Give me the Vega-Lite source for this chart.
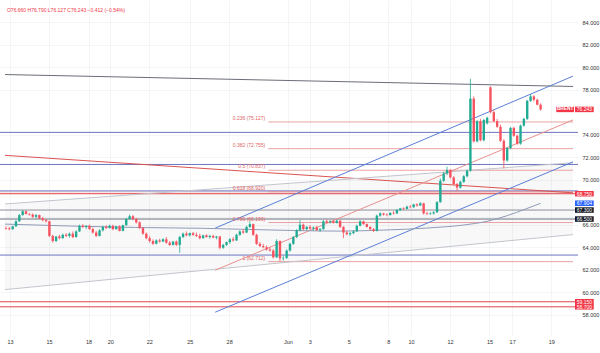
{
  "$schema": "https://vega.github.io/schema/vega-lite/v6.json",
  "width": 578,
  "height": 335,
  "autosize": {"type": "none"},
  "padding": {"left": 0, "top": 0, "right": 22, "bottom": 18},
  "background": "#ffffff",
  "config": {
    "view": {"stroke": null},
    "font": "Liberation Sans",
    "axis": {"labelFont": "Liberation Sans", "labelColor": "#333333", "labelFontSize": 5.5, "labelOverlap": false, "labelBound": false, "labelFlush": false}
  },
  "resolve": {"scale": {"color": "independent"}, "axis": {"x": "independent", "y": "independent"}},
  "datasets": {
    "candles": [
      {"i":0,"o":65.70,"h":65.85,"l":65.55,"c":65.65},
      {"i":1,"o":65.65,"h":65.80,"l":65.50,"c":65.60},
      {"i":2,"o":65.60,"h":65.90,"l":65.55,"c":65.85},
      {"i":3,"o":65.85,"h":66.40,"l":65.80,"c":66.30},
      {"i":4,"o":66.30,"h":66.95,"l":66.25,"c":66.85},
      {"i":5,"o":66.85,"h":67.30,"l":66.80,"c":67.20},
      {"i":6,"o":67.20,"h":67.25,"l":66.90,"c":66.95},
      {"i":7,"o":66.95,"h":67.05,"l":66.80,"c":66.90},
      {"i":8,"o":66.90,"h":67.00,"l":66.60,"c":66.70},
      {"i":9,"o":66.70,"h":66.95,"l":66.55,"c":66.85},
      {"i":10,"o":66.85,"h":66.90,"l":66.50,"c":66.55},
      {"i":11,"o":66.55,"h":66.70,"l":66.30,"c":66.40},
      {"i":12,"o":66.40,"h":66.50,"l":66.20,"c":66.30},
      {"i":13,"o":66.30,"h":66.35,"l":64.90,"c":65.00},
      {"i":14,"o":65.00,"h":65.10,"l":64.40,"c":64.55},
      {"i":15,"o":64.55,"h":65.00,"l":64.45,"c":64.95},
      {"i":16,"o":64.95,"h":65.10,"l":64.70,"c":64.80},
      {"i":17,"o":64.80,"h":65.20,"l":64.75,"c":65.10},
      {"i":18,"o":65.10,"h":65.25,"l":64.90,"c":65.00},
      {"i":19,"o":65.00,"h":65.30,"l":64.85,"c":65.20},
      {"i":20,"o":65.20,"h":65.40,"l":64.80,"c":64.90},
      {"i":21,"o":64.90,"h":65.50,"l":64.85,"c":65.40},
      {"i":22,"o":65.40,"h":66.00,"l":65.35,"c":65.90},
      {"i":23,"o":65.90,"h":66.05,"l":65.70,"c":65.80},
      {"i":24,"o":65.80,"h":65.95,"l":65.60,"c":65.90},
      {"i":25,"o":65.90,"h":66.00,"l":65.55,"c":65.60},
      {"i":26,"o":65.60,"h":65.75,"l":65.20,"c":65.30},
      {"i":27,"o":65.30,"h":65.45,"l":64.90,"c":65.00},
      {"i":28,"o":65.00,"h":65.60,"l":64.95,"c":65.50},
      {"i":29,"o":65.50,"h":65.90,"l":65.40,"c":65.80},
      {"i":30,"o":65.80,"h":65.95,"l":65.60,"c":65.70},
      {"i":31,"o":65.70,"h":66.00,"l":65.65,"c":65.90},
      {"i":32,"o":65.90,"h":66.00,"l":65.50,"c":65.60},
      {"i":33,"o":65.60,"h":65.90,"l":65.55,"c":65.85},
      {"i":34,"o":65.85,"h":65.95,"l":65.40,"c":65.45},
      {"i":35,"o":65.45,"h":66.00,"l":65.40,"c":65.95},
      {"i":36,"o":65.95,"h":66.60,"l":65.90,"c":66.50},
      {"i":37,"o":66.50,"h":66.90,"l":66.45,"c":66.75},
      {"i":38,"o":66.75,"h":66.85,"l":66.40,"c":66.50},
      {"i":39,"o":66.50,"h":66.60,"l":66.10,"c":66.20},
      {"i":40,"o":66.20,"h":66.30,"l":65.60,"c":65.70},
      {"i":41,"o":65.70,"h":65.80,"l":65.10,"c":65.20},
      {"i":42,"o":65.20,"h":65.30,"l":64.70,"c":64.80},
      {"i":43,"o":64.80,"h":65.00,"l":64.40,"c":64.55},
      {"i":44,"o":64.55,"h":64.70,"l":64.20,"c":64.30},
      {"i":45,"o":64.30,"h":64.70,"l":64.25,"c":64.60},
      {"i":46,"o":64.60,"h":64.75,"l":64.40,"c":64.50},
      {"i":47,"o":64.50,"h":64.80,"l":64.45,"c":64.70},
      {"i":48,"o":64.70,"h":64.90,"l":64.30,"c":64.40},
      {"i":49,"o":64.40,"h":64.55,"l":64.10,"c":64.20},
      {"i":50,"o":64.20,"h":64.55,"l":64.15,"c":64.50},
      {"i":51,"o":64.50,"h":64.60,"l":64.10,"c":64.20},
      {"i":52,"o":64.20,"h":65.00,"l":63.50,"c":64.90},
      {"i":53,"o":64.90,"h":65.30,"l":64.80,"c":65.20},
      {"i":54,"o":65.20,"h":65.40,"l":64.95,"c":65.05},
      {"i":55,"o":65.05,"h":65.30,"l":64.95,"c":65.25},
      {"i":56,"o":65.25,"h":65.35,"l":65.00,"c":65.10},
      {"i":57,"o":65.10,"h":65.30,"l":64.90,"c":65.00},
      {"i":58,"o":65.00,"h":65.20,"l":64.70,"c":64.80},
      {"i":59,"o":64.80,"h":65.10,"l":64.75,"c":65.05},
      {"i":60,"o":65.05,"h":65.15,"l":64.85,"c":64.90},
      {"i":61,"o":64.90,"h":65.10,"l":64.75,"c":65.00},
      {"i":62,"o":65.00,"h":65.10,"l":64.80,"c":64.85},
      {"i":63,"o":64.85,"h":65.00,"l":64.70,"c":64.95},
      {"i":64,"o":64.95,"h":65.00,"l":63.80,"c":63.95},
      {"i":65,"o":63.95,"h":64.30,"l":63.85,"c":64.20},
      {"i":66,"o":64.20,"h":64.50,"l":64.10,"c":64.45},
      {"i":67,"o":64.45,"h":64.80,"l":64.30,"c":64.70},
      {"i":68,"o":64.70,"h":64.90,"l":64.50,"c":64.60},
      {"i":69,"o":64.60,"h":65.20,"l":64.55,"c":65.10},
      {"i":70,"o":65.10,"h":65.50,"l":65.00,"c":65.40},
      {"i":71,"o":65.40,"h":65.60,"l":65.20,"c":65.30},
      {"i":72,"o":65.30,"h":65.90,"l":65.25,"c":65.80},
      {"i":73,"o":65.80,"h":66.30,"l":65.70,"c":66.05},
      {"i":74,"o":66.05,"h":66.10,"l":65.00,"c":65.10},
      {"i":75,"o":65.10,"h":65.20,"l":64.20,"c":64.30},
      {"i":76,"o":64.30,"h":64.45,"l":64.00,"c":64.10},
      {"i":77,"o":64.10,"h":64.30,"l":63.90,"c":64.00},
      {"i":78,"o":64.00,"h":64.15,"l":63.70,"c":63.80},
      {"i":79,"o":63.80,"h":64.00,"l":63.60,"c":63.70},
      {"i":80,"o":63.70,"h":63.85,"l":63.00,"c":63.10},
      {"i":81,"o":63.10,"h":64.70,"l":63.05,"c":64.55},
      {"i":82,"o":64.55,"h":64.60,"l":62.71,"c":63.00},
      {"i":83,"o":63.00,"h":63.20,"l":62.80,"c":63.05},
      {"i":84,"o":63.05,"h":63.80,"l":62.95,"c":63.70},
      {"i":85,"o":63.70,"h":64.40,"l":63.60,"c":64.30},
      {"i":86,"o":64.30,"h":65.00,"l":64.20,"c":64.90},
      {"i":87,"o":64.90,"h":65.60,"l":64.80,"c":65.50},
      {"i":88,"o":65.50,"h":66.40,"l":65.40,"c":66.00},
      {"i":89,"o":66.00,"h":66.10,"l":65.50,"c":65.60},
      {"i":90,"o":65.60,"h":65.90,"l":65.50,"c":65.80},
      {"i":91,"o":65.80,"h":65.95,"l":65.55,"c":65.65},
      {"i":92,"o":65.65,"h":65.85,"l":65.45,"c":65.75},
      {"i":93,"o":65.75,"h":65.90,"l":65.45,"c":65.50},
      {"i":94,"o":65.50,"h":65.70,"l":65.35,"c":65.60},
      {"i":95,"o":65.60,"h":66.40,"l":65.55,"c":66.30},
      {"i":96,"o":66.30,"h":66.45,"l":66.15,"c":66.20},
      {"i":97,"o":66.20,"h":66.40,"l":66.10,"c":66.30},
      {"i":98,"o":66.30,"h":66.40,"l":66.10,"c":66.15},
      {"i":99,"o":66.15,"h":66.45,"l":66.10,"c":66.35},
      {"i":100,"o":66.35,"h":66.40,"l":65.70,"c":65.80},
      {"i":101,"o":65.80,"h":65.85,"l":64.80,"c":65.30},
      {"i":102,"o":65.30,"h":65.45,"l":65.05,"c":65.15},
      {"i":103,"o":65.15,"h":65.35,"l":65.00,"c":65.25},
      {"i":104,"o":65.25,"h":65.50,"l":65.15,"c":65.40},
      {"i":105,"o":65.40,"h":66.00,"l":65.35,"c":65.90},
      {"i":106,"o":65.90,"h":66.40,"l":65.85,"c":66.30},
      {"i":107,"o":66.30,"h":66.35,"l":66.00,"c":66.05},
      {"i":108,"o":66.05,"h":66.10,"l":65.75,"c":65.80},
      {"i":109,"o":65.80,"h":65.85,"l":65.50,"c":65.60},
      {"i":110,"o":65.60,"h":65.70,"l":65.35,"c":65.45},
      {"i":111,"o":65.45,"h":66.90,"l":65.40,"c":66.80},
      {"i":112,"o":66.80,"h":67.10,"l":66.70,"c":67.00},
      {"i":113,"o":67.00,"h":67.05,"l":66.80,"c":66.90},
      {"i":114,"o":66.90,"h":67.00,"l":66.75,"c":66.85},
      {"i":115,"o":66.85,"h":67.10,"l":66.80,"c":67.05},
      {"i":116,"o":67.05,"h":67.20,"l":66.90,"c":67.00},
      {"i":117,"o":67.00,"h":67.40,"l":66.95,"c":67.30},
      {"i":118,"o":67.30,"h":67.50,"l":67.20,"c":67.45},
      {"i":119,"o":67.45,"h":67.55,"l":67.30,"c":67.40},
      {"i":120,"o":67.40,"h":67.70,"l":67.35,"c":67.60},
      {"i":121,"o":67.60,"h":67.75,"l":67.45,"c":67.55},
      {"i":122,"o":67.55,"h":67.85,"l":67.50,"c":67.80},
      {"i":123,"o":67.80,"h":67.90,"l":67.60,"c":67.70},
      {"i":124,"o":67.70,"h":68.00,"l":67.65,"c":67.90},
      {"i":125,"o":67.90,"h":67.95,"l":66.90,"c":67.00},
      {"i":126,"o":67.00,"h":67.15,"l":66.85,"c":66.95},
      {"i":127,"o":66.95,"h":67.10,"l":66.85,"c":67.00},
      {"i":128,"o":67.00,"h":67.20,"l":66.90,"c":67.10},
      {"i":129,"o":67.10,"h":68.10,"l":67.05,"c":68.00},
      {"i":130,"o":68.00,"h":70.10,"l":67.95,"c":69.90},
      {"i":131,"o":69.90,"h":70.70,"l":69.80,"c":70.55},
      {"i":132,"o":70.55,"h":71.15,"l":70.40,"c":70.85},
      {"i":133,"o":70.85,"h":70.95,"l":70.10,"c":70.20},
      {"i":134,"o":70.20,"h":70.30,"l":69.50,"c":69.60},
      {"i":135,"o":69.60,"h":69.70,"l":69.00,"c":69.30},
      {"i":136,"o":69.30,"h":69.90,"l":69.20,"c":69.80},
      {"i":137,"o":69.80,"h":70.40,"l":69.70,"c":70.30},
      {"i":138,"o":70.30,"h":70.90,"l":70.20,"c":70.80},
      {"i":139,"o":70.80,"h":78.96,"l":70.70,"c":77.20},
      {"i":140,"o":77.20,"h":77.40,"l":73.30,"c":73.40},
      {"i":141,"o":73.40,"h":75.30,"l":73.30,"c":75.20},
      {"i":142,"o":75.20,"h":75.40,"l":73.40,"c":73.50},
      {"i":143,"o":73.50,"h":75.40,"l":73.40,"c":75.30},
      {"i":144,"o":75.00,"h":75.60,"l":74.90,"c":75.50},
      {"i":145,"o":78.20,"h":78.30,"l":75.90,"c":76.00},
      {"i":146,"o":76.00,"h":76.20,"l":75.10,"c":75.20},
      {"i":147,"o":75.20,"h":75.40,"l":74.60,"c":74.70},
      {"i":148,"o":74.70,"h":74.90,"l":73.35,"c":73.45},
      {"i":149,"o":73.45,"h":73.60,"l":71.00,"c":71.70},
      {"i":150,"o":71.70,"h":72.90,"l":71.60,"c":72.80},
      {"i":151,"o":72.80,"h":74.70,"l":72.70,"c":74.60},
      {"i":152,"o":74.60,"h":74.70,"l":73.80,"c":73.90},
      {"i":153,"o":73.90,"h":74.00,"l":73.10,"c":73.20},
      {"i":154,"o":73.20,"h":74.90,"l":73.10,"c":74.80},
      {"i":155,"o":74.80,"h":75.50,"l":74.70,"c":75.40},
      {"i":156,"o":75.40,"h":77.10,"l":75.30,"c":77.00},
      {"i":157,"o":77.00,"h":77.60,"l":76.90,"c":77.40},
      {"i":158,"o":77.40,"h":77.50,"l":76.95,"c":77.10},
      {"i":159,"o":77.10,"h":77.20,"l":76.60,"c":76.66},
      {"i":160,"o":76.66,"h":76.79,"l":76.13,"c":76.24}
    ],
    "ma": [
      {"i":-0.29,"p":66.05},{"i":19.4,"p":65.88},{"i":38.8,"p":65.75},{"i":58.5,"p":65.68},
      {"i":76,"p":65.55},{"i":88,"p":65.47},{"i":99.7,"p":65.43},{"i":113,"p":65.52},
      {"i":126,"p":65.7},{"i":137,"p":65.97},{"i":144,"p":66.3},{"i":150,"p":66.8},
      {"i":155.6,"p":67.4},{"i":160,"p":67.9}
    ],
    "hl": [
      {"k":"ind","p":74.2},{"k":"ind","p":71.35},{"k":"ind","p":69.0},{"k":"red","p":68.75},
      {"k":"gry","p":67.3},{"k":"gry","p":66.5},{"k":"ind","p":63.3},{"k":"red","p":59.15},{"k":"red","p":58.7}
    ],
    "dl": [
      {"ln":"top","k":"dark","i":-0.29,"p":79.34},{"ln":"top","k":"dark","i":169.7,"p":78.28},
      {"ln":"rdg","k":"red","i":-0.29,"p":72.16},{"ln":"rdg","k":"red","i":169.7,"p":68.83},
      {"ln":"gup","k":"gray","i":-0.29,"p":67.84},{"ln":"gup","k":"gray","i":169.7,"p":71.5},
      {"ln":"glo","k":"gray","i":-0.29,"p":60.23},{"ln":"glo","k":"gray","i":169.7,"p":65.12},
      {"ln":"bup","k":"blue","i":62.6,"p":65.69},{"ln":"bup","k":"blue","i":169.7,"p":79.2},
      {"ln":"blo","k":"blue","i":62.6,"p":58.22},{"ln":"blo","k":"blue","i":169.7,"p":71.58},
      {"ln":"pmid","k":"pink","i":62.6,"p":61.95},{"ln":"pmid","k":"pink","i":169.7,"p":75.31}
    ],
    "chan": [
      {"i":-0.29,"lo":60.23,"hi":67.84},{"i":169.7,"lo":65.12,"hi":71.5}
    ],
    "fib": [
      {"f":"0.236 (75.127)","p":75.127},{"f":"0.382 (72.755)","p":72.755},{"f":"0.5 (70.837)","p":70.837},
      {"f":"0.618 (68.920)","p":68.92},{"f":"0.786 (66.190)","p":66.19},{"f":"1 (62.712)","p":62.712}
    ],
    "tags": [
      {"lab":"76.243","p":76.243,"k":"r"},{"lab":"68.750","p":68.75,"k":"r"},{"lab":"67.904","p":67.904,"k":"b"},
      {"lab":"67.300","p":67.3,"k":"k"},{"lab":"66.500","p":66.5,"k":"k"},{"lab":"59.150","p":59.15,"k":"r"},{"lab":"58.700","p":58.7,"k":"r"}
    ]
  },
  "layer": [
    {
      "data": {"name": "chan"},
      "mark": {"type": "area", "color": "#9598a1", "opacity": 0.07},
      "encoding": {
        "x": {"field": "i", "type": "quantitative", "title": null,
          "scale": {"domain": [-0.29, 169.7], "nice": false, "zero": false},
          "axis": {"orient": "bottom", "values": [1.2,12.9,24.7,31.2,42.9,55,66.8,84.4,90.9,102.6,114.4,121.2,132.9,144.7,151.5,163.2],
            "labelExpr": "['13','15','18','20','22','25','28','Jun','3','5','8','10','12','15','17','19'][indexof([1.2,12.9,24.7,31.2,42.9,55,66.8,84.4,90.9,102.6,114.4,121.2,132.9,144.7,151.5,163.2], datum.value)]",
            "ticks": false, "domain": false, "grid": true, "gridColor": "#eef0f4", "gridWidth": 0.7,
            "labelPadding": 4, "labelFlush": false, "labelOverlap": false, "labelBound": false}},
        "y": {"field": "lo", "type": "quantitative", "title": null,
          "scale": {"domain": [56.64, 85.52], "nice": false, "zero": false},
          "axis": {"orient": "right", "values": [58,60,62,64,66,70,72,74,78,80,82,84], "format": ".3f",
            "ticks": false, "domain": false, "grid": true, "gridColor": "#eef0f4", "gridWidth": 0.7,
            "labelPadding": 4, "labelAlign": "left", "labelBaseline": "middle", "labelFlush": false, "labelOverlap": false, "labelBound": false}},
        "y2": {"field": "hi"}
      }
    },
    {
      "data": {"values": [{}]},
      "mark": {"type": "rect", "color": "#f4c7cc", "opacity": 0.45},
      "encoding": {"y": {"datum": 69.0, "type": "quantitative", "axis": null}, "y2": {"datum": 68.75}}
    },
    {
      "data": {"values": [{}]},
      "mark": {"type": "rect", "color": "#b5b8c0", "opacity": 0.45},
      "encoding": {"y": {"datum": 66.62, "type": "quantitative", "axis": null}, "y2": {"datum": 66.42}}
    },
    {
      "data": {"name": "hl"},
      "mark": {"type": "rule", "strokeWidth": 1},
      "encoding": {
        "y": {"field": "p", "type": "quantitative", "axis": null},
        "color": {"field": "k", "type": "nominal", "legend": null,
          "scale": {"domain": ["ind", "red", "gry"], "range": ["#6c74c0", "#e0474c", "#8c8f99"]}}
      }
    },
    {
      "data": {"name": "fib"},
      "mark": {"type": "rule", "strokeWidth": 0.8, "color": "#e58a8a"},
      "encoding": {
        "x": {"datum": 78.5, "type": "quantitative", "axis": null},
        "x2": {"datum": 169.7},
        "y": {"field": "p", "type": "quantitative", "axis": null}
      }
    },
    {
      "data": {"name": "dl"},
      "mark": {"type": "line", "strokeWidth": 1},
      "encoding": {
        "x": {"field": "i", "type": "quantitative", "axis": null},
        "y": {"field": "p", "type": "quantitative", "axis": null},
        "detail": {"field": "ln"},
        "color": {"field": "k", "type": "nominal", "legend": null,
          "scale": {"domain": ["dark", "red", "gray", "blue", "pink"], "range": ["#6b6e78", "#d9534f", "#c2c5cc", "#5b7fd6", "#e8908f"]}}
      }
    },
    {
      "data": {"name": "ma"},
      "mark": {"type": "line", "strokeWidth": 1, "color": "#8f9bb8", "interpolate": "monotone"},
      "encoding": {
        "x": {"field": "i", "type": "quantitative", "axis": null},
        "y": {"field": "p", "type": "quantitative", "axis": null}
      }
    },
    {
      "data": {"name": "fib"},
      "mark": {"type": "text", "align": "right", "baseline": "bottom", "dy": -1, "fontSize": 5, "color": "#e06666"},
      "encoding": {
        "x": {"datum": 77.6, "type": "quantitative", "axis": null},
        "y": {"field": "p", "type": "quantitative", "axis": null},
        "text": {"field": "f"}
      }
    },
    {
      "data": {"name": "candles"},
      "mark": {"type": "rule", "strokeWidth": 0.8},
      "encoding": {
        "x": {"field": "i", "type": "quantitative", "axis": null},
        "y": {"field": "l", "type": "quantitative", "axis": null},
        "y2": {"field": "h"},
        "color": {"condition": {"test": "datum.c >= datum.o", "value": "#22ab94"}, "value": "#f7525f"}
      }
    },
    {
      "data": {"name": "candles"},
      "mark": {"type": "bar", "size": 2.4},
      "encoding": {
        "x": {"field": "i", "type": "quantitative", "axis": null},
        "y": {"field": "o", "type": "quantitative", "axis": null},
        "y2": {"field": "c"},
        "color": {"condition": {"test": "datum.c >= datum.o", "value": "#22ab94"}, "value": "#f7525f"}
      }
    },
    {
      "data": {"values": [{"lab": "BRENT", "p": 76.243}]},
      "mark": {"type": "bar", "size": 5.5, "orient": "horizontal", "color": "#f23645"},
      "encoding": {"x": {"datum": 164.7, "type": "quantitative", "axis": null}, "x2": {"datum": 170.0}, "y": {"field": "p", "type": "quantitative", "axis": null}}
    },
    {
      "data": {"values": [{"lab": "BRENT", "p": 76.243}]},
      "mark": {"type": "text", "fontSize": 4.8, "color": "#ffffff", "fontWeight": "bold"},
      "encoding": {"x": {"datum": 167.35, "type": "quantitative", "axis": null}, "y": {"field": "p", "type": "quantitative", "axis": null}, "text": {"field": "lab"}}
    },
    {
      "data": {"name": "tags"},
      "mark": {"type": "bar", "size": 5.5, "orient": "horizontal"},
      "encoding": {
        "x": {"datum": 170.3, "type": "quantitative", "axis": null},
        "x2": {"datum": 175.9},
        "y": {"field": "p", "type": "quantitative", "axis": null},
        "color": {"field": "k", "type": "nominal", "legend": null,
          "scale": {"domain": ["r", "b", "k"], "range": ["#f23645", "#2962ff", "#131722"]}}
      }
    },
    {
      "data": {"name": "tags"},
      "mark": {"type": "text", "fontSize": 5, "color": "#ffffff"},
      "encoding": {
        "x": {"datum": 173.1, "type": "quantitative", "axis": null},
        "y": {"field": "p", "type": "quantitative", "axis": null},
        "text": {"field": "lab"}
      }
    },
    {
      "data": {"values": [{"t": "O76.660 H76.790 L76.127 C76.243 \u22120.412 (\u22120.54%)"}]},
      "mark": {"type": "text", "align": "left", "baseline": "middle", "fontSize": 5, "color": "#f23645"},
      "encoding": {
        "x": {"datum": 0.3, "type": "quantitative", "axis": null},
        "y": {"datum": 85.05, "type": "quantitative", "axis": null},
        "text": {"field": "t"}
      }
    }
  ]
}
